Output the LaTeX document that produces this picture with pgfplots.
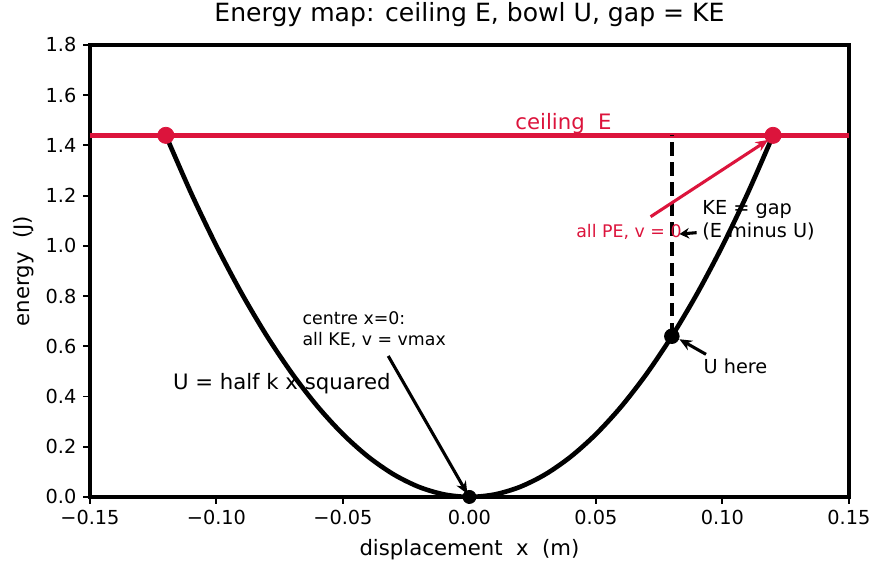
\documentclass[border=0pt]{standalone}
\usepackage{fontspec}
\setmainfont{DejaVu Sans}
\usepackage{pgfplots}
\pgfplotsset{compat=1.18}
\usetikzlibrary{arrows.meta}
\definecolor{crim}{HTML}{DC143C}

\newcommand{\fs}[1]{\fontsize{#1}{1.2\dimexpr #1pt\relax}\selectfont}

\begin{document}
\begin{tikzpicture}
\begin{axis}[
  scale only axis,
  width=393.3pt, height=234.2pt,
  xmin=-0.15, xmax=0.15, ymin=0, ymax=1.8,
  axis line style={line width=2.4pt},
  xtick={-0.15,-0.10,-0.05,0,0.05,0.10,0.15},
  xticklabels={−0.15,−0.10,−0.05,0.00,0.05,0.10,0.15},
  ytick={0,0.2,...,1.81},
  yticklabel style={/pgf/number format/.cd,fixed,fixed zerofill,precision=1,assume math mode=true},
  ticklabel style={font=\fs{10}},
  tick align=outside,
  tick pos=left,
  major tick length=3.5pt,
  every tick/.style={black,line width=1pt},
  title={Energy map: ceiling E, bowl U, gap = KE},
  title style={font=\fs{13}, at={(axis description cs:0.5,1)}, anchor=base, yshift=6.2pt},
  xlabel={displacement\ \ x\ \ (m)},
  ylabel={energy\ \ (J)},
  label style={font=\fs{11}},
  xlabel style={at={(axis description cs:0.5,-0.117)}, anchor=center},
  ylabel style={at={(axis description cs:-0.087,0.5)}, anchor=center, rotate=0},
  clip=true,
]
% total energy ceiling
\addplot[crim, line width=2.4pt] coordinates {(-0.15,1.44) (0.15,1.44)};

% potential energy bowl U(x)
\addplot[black, line width=2.4pt, smooth] coordinates {
  (-0.120,1.4400) (-0.110,1.2100) (-0.100,1.0000) (-0.090,0.8100)
  (-0.080,0.6400) (-0.070,0.4900) (-0.060,0.3600) (-0.050,0.2500)
  (-0.040,0.1600) (-0.030,0.0900) (-0.020,0.0400) (-0.010,0.0100)
  (0.000,0.0000) (0.010,0.0100) (0.020,0.0400) (0.030,0.0900)
  (0.040,0.1600) (0.050,0.2500) (0.060,0.3600) (0.070,0.4900)
  (0.080,0.6400) (0.090,0.8100) (0.100,1.0000) (0.110,1.2100)
  (0.120,1.4400)};

% gap between U and E at the sample position
\addplot[black, line width=2.1pt, dash pattern=on 7pt off 3.4pt] coordinates {(0.08,0.64) (0.08,1.44)};

% turning points
\addplot[only marks, mark=*, mark size=4.2pt, crim, mark options={draw=crim, fill=crim}] coordinates {(-0.12,1.44) (0.12,1.44)};
% sample position and centre
\addplot[only marks, mark=*, mark size=3.8pt, black] coordinates {(0.08,0.64)};
\addplot[only marks, mark=*, mark size=3.4pt, black] coordinates {(0,0)};

% labels
\node[crim, anchor=base west, inner sep=0pt, font=\fs{11}] at (axis cs:0.018,1.465) {ceiling\ \ E};
\node[black, anchor=base west, inner sep=0pt, font=\fs{11}] at (axis cs:-0.1173,0.429) {U = half k x squared};
\node[black, anchor=base west, inner sep=0pt, font=\fs{9}] at (axis cs:-0.0661,0.685) {centre x=0:};
\node[black, anchor=base west, inner sep=0pt, font=\fs{9}] at (axis cs:-0.0661,0.605) {all KE, v = vmax};
\node[black, anchor=base west, inner sep=0pt, font=\fs{10}] at (axis cs:0.0919,1.123) {KE = gap};
\node[black, anchor=base west, inner sep=0pt, font=\fs{10}] at (axis cs:0.0919,1.035) {(E minus U)};
\node[black, anchor=base west, inner sep=0pt, font=\fs{10}] at (axis cs:0.0924,0.490) {U here};
\node[crim, anchor=base west, inner sep=0pt, font=\fs{9}] at (axis cs:0.0421,1.035) {all PE, v = 0};

% arrows
\draw[black, line width=1.6pt, -{Stealth[length=6.5pt,width=5.5pt]}] (axis cs:-0.0321,0.5615) -- (axis cs:-0.0008,0.012);
\draw[crim, line width=1.6pt, -{Stealth[length=6.5pt,width=5.5pt]}] (axis cs:0.0716,1.116) -- (axis cs:0.1181,1.422);
\draw[black, line width=1.6pt, -{Stealth[length=5pt,width=5.5pt]}] (axis cs:0.0898,1.0525) -- (axis cs:0.0830,1.047);
\draw[black, line width=1.6pt, -{Stealth[length=6.5pt,width=5.5pt]}] (axis cs:0.0935,0.568) -- (axis cs:0.0830,0.628);

\coordinate (ll) at (rel axis cs:0,0);
\coordinate (ur) at (rel axis cs:1,1);
\end{axis}
\pgfresetboundingbox
\path[use as bounding box] ([xshift=-46.6pt,yshift=-39.4pt]ll) rectangle ([xshift=19.2pt,yshift=23.3pt]ur);
\end{tikzpicture}
\end{document}
